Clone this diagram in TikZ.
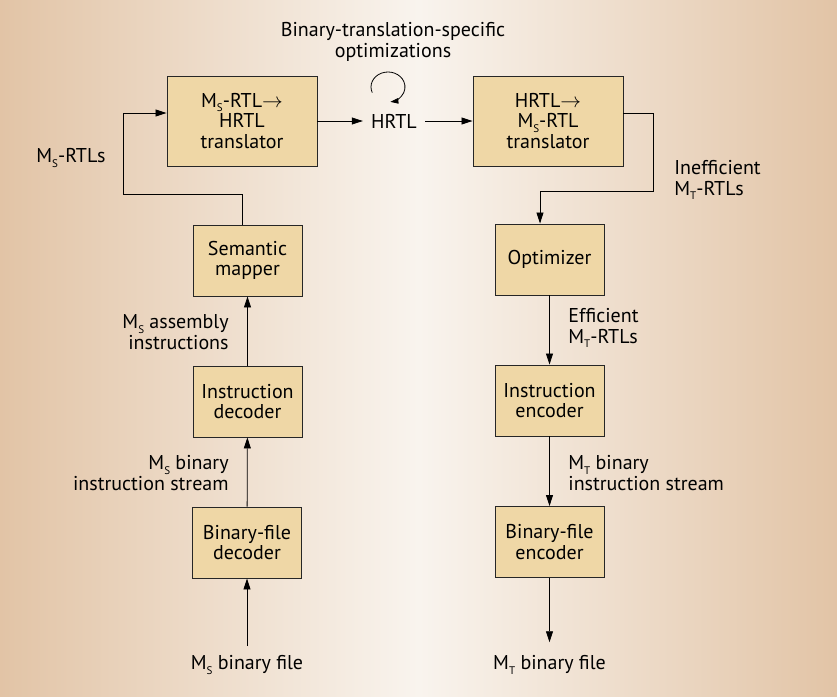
\documentclass[tikz,border=0pt]{standalone}
\usepackage{fontspec}
\setmainfont{PT Sans}
\usetikzlibrary{arrows.meta}
\definecolor{bgedge}{RGB}{226,196,166}
\definecolor{bgmid}{RGB}{249,244,238}
\definecolor{boxfill}{RGB}{239,215,166}
\newcommand{\lowsub}[1]{\raisebox{-0.45ex}{\fontsize{11}{11}\selectfont #1}}
\newcommand{\Ms}{M\lowsub{S}}
\newcommand{\Mt}{M\lowsub{T}}

\begin{document}
\begin{tikzpicture}[x=1pt, y=-1pt, every node/.style={font=\fontsize{20}{20.5}\selectfont},
  blk/.style={draw=black!85, line width=0.9pt, fill=boxfill, align=center, inner sep=0pt,
    minimum width=109pt, minimum height=71pt},
  wide/.style={blk, minimum width=150pt, minimum height=90pt},
  lbl/.style={inner sep=0pt},
  >={Triangle[length=11pt, width=7pt]}, line width=0.8pt]
  \shade[left color=bgedge, right color=bgedge, middle color=bgmid] (0,0) rectangle (837,696);
  \node[wide] (tr1) at (242,121) {\Ms-RTL$\rightarrow$\\HRTL\\translator};
  \node[wide] (tr2) at (548,121) {HRTL$\rightarrow$\\\Ms-RTL\\translator};
  \node[inner xsep=8pt] (hrtl) at (394,121) {HRTL};
  \foreach \nm/\x/\y/\txt in {smap/247.5/260.5/{Semantic\\mapper}, idec/247.5/401.5/{Instruction\\decoder},
      bdec/247/542.5/{Binary-file\\decoder}, opt/549.5/259.5/{Optimizer},
      ienc/549.5/400.5/{Instruction\\encoder}, benc/549.5/542/{Binary-file\\encoder}}
    \node[blk] (\nm) at (\x,\y) {\txt};

  \node[align=center, lbl] (bto) at (393,42) {Binary-translation-specific\\optimizations};
  \node[lbl, anchor=west] (msrtl) at (36,158) {\Ms-RTLs};
  \node[lbl, anchor=west, align=left] (ineff) at (674,180) {Inefficient\\\Mt-RTLs};
  \node[lbl, anchor=west, align=left] (eff) at (568,328) {Efficient\\\Mt-RTLs};
  \node[lbl, anchor=west, align=left] (mtstr) at (568,473) {\Mt{} binary\\instruction stream};
  \node[lbl, anchor=east, align=right] (msasm) at (229,332) {\Ms{} assembly\\instructions};
  \node[lbl, anchor=east, align=right] (msstr) at (229,473) {\Ms{} binary\\instruction stream};
  \node[lbl] (msfile) at (247,665) {\Ms{} binary file};
  \node[lbl] (mtfile) at (549.5,665) {\Mt{} binary file};

  \coordinate (loopc) at (388,87);
  \coordinate (fbL) at (123,194);
  \coordinate (fbR) at (653,191);
  \coordinate (fbD) at (540,191);

  \draw[->] (tr1) -- (hrtl);
  \draw[->] (hrtl) -- (tr2);
  \draw[-{Triangle[length=8pt, width=5.5pt]}] ([shift={(158:17 and 15)}]loopc)
    arc[start angle=158, end angle=442, x radius=17, y radius=15];
  \draw[->] (smap.north -| tr1) |- (fbL) |- ([yshift=8pt]tr1.west);
  \draw[->] ([yshift=8pt]tr2.east) -| (fbR) -- (fbD) -- (fbD |- opt.north);
  \draw[->] ([yshift=9pt]msfile.north) -- (bdec);
  \draw[->] (bdec) -- (idec);
  \draw[->] (idec) -- (smap);
  \draw[->] (opt) -- (ienc);
  \draw[->] (ienc) -- (benc);
  \draw[->] (benc) -- ([yshift=13pt]mtfile.north);
\end{tikzpicture}
\end{document}
